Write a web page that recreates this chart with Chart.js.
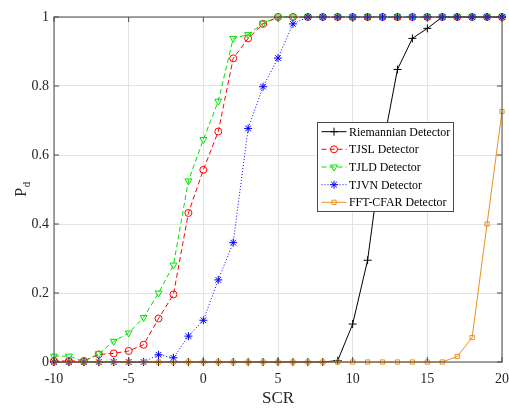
<!DOCTYPE html>
<html>
<head>
<meta charset="utf-8">
<script src="https://cdn.jsdelivr.net/npm/chart.js@4.4.1/dist/chart.umd.min.js"></script>
<style>
  html, body { margin: 0; padding: 0; background: #ffffff; }
  #wrap { width: 509px; height: 409px; position: relative; }
</style>
</head>
<body>
<div id="wrap"><canvas id="c" width="509" height="409"></canvas></div>
<script>
// SCR values (dB) on the horizontal axis
const scr = [-10, -9, -8, -7, -6, -5, -4, -3, -2, -1, 0, 1, 2, 3, 4, 5, 6, 7, 8, 9, 10,
             11, 12, 13, 14, 15, 16, 17, 18, 19, 20];

// Probability of detection for each detector
const riemannian = [0, 0, 0, 0, 0, 0, 0, 0, 0, 0, 0, 0, 0, 0, 0, 0, 0, 0, 0, 0.004, 0.11,
                    0.295, 0.62, 0.848, 0.938, 0.967, 1, 1, 1, 1, 1];
const tjsl = [0.003, 0.003, 0.003, 0.022, 0.025, 0.032, 0.05, 0.126, 0.196, 0.432, 0.557,
              0.668, 0.88, 0.938, 0.98, 1, 1, 1, 1, 1, 1, 1, 1, 1, 1, 1, 1, 1, 1, 1, 1];
const tjld = [0.017, 0.017, 0.002, 0.024, 0.06, 0.084, 0.129, 0.2, 0.281, 0.525, 0.645,
              0.756, 0.938, 0.949, 0.982, 1, 1, 1, 1, 1, 1, 1, 1, 1, 1, 1, 1, 1, 1, 1, 1];
const tjvn = [0, 0, 0, 0, 0, 0, 0, 0.021, 0.012, 0.075, 0.121, 0.238, 0.346, 0.677, 0.798,
              0.881, 0.98, 1, 1, 1, 1, 1, 1, 1, 1, 1, 1, 1, 1, 1, 1];
const fftCfar = [0, 0, 0, 0, 0, 0, 0, 0, 0, 0, 0, 0, 0, 0, 0, 0, 0, 0, 0, 0, 0,
                 0, 0, 0, 0, 0, 0, 0.016, 0.071, 0.4, 0.726];

const seriesNames = ['Riemannian Detector', 'TJSL Detector', 'TJLD Detector', 'TJVN Detector', 'FFT-CFAR Detector'];
const xTicks = [-10, -5, 0, 5, 10, 15, 20];
const yTicks = [0, 0.2, 0.4, 0.6, 0.8, 1];

const SERIF = '"Liberation Serif", "DejaVu Serif", serif';
const ORANGE = '#e8901e';

function pts(vals) { return vals.map((v, i) => ({ x: scr[i], y: v })); }

const styles = [
  { color: '#000000', dash: [], point: 'cross', r: 4, rot: 0 },
  { color: '#ff0000', dash: [5, 3], point: 'circle', r: 3.5, rot: 0 },
  { color: '#00e000', dash: [5, 3], point: 'triangle', r: 4, rot: 180 },
  { color: '#0000ff', dash: [1, 2], point: 'star', r: 4, rot: 0 },
  { color: ORANGE, dash: [], point: 'rect', r: 3, rot: 0 }
];
const allSeries = [riemannian, tjsl, tjld, tjvn, fftCfar];

const datasets = allSeries.map((vals, i) => ({
  label: seriesNames[i],
  data: pts(vals),
  borderColor: styles[i].color,
  backgroundColor: 'rgba(0,0,0,0)',
  borderWidth: 1,
  borderDash: styles[i].dash,
  pointStyle: styles[i].point,
  pointRadius: styles[i].r,
  pointRotation: styles[i].rot,
  pointBorderColor: styles[i].color,
  pointBackgroundColor: 'rgba(0,0,0,0)',
  pointBorderWidth: 1,
  tension: 0,
  clip: false,
  order: 5 - i
}));

// Box frame, inward tick marks, y title with subscript and an in-plot legend
const framePlugin = {
  id: 'frame',
  afterDatasetsDraw(chart) {
    const { ctx, chartArea: a, scales } = chart;
    const xs = scales.x, ys = scales.y;
    ctx.save();
    ctx.strokeStyle = '#4a4a4a';
    ctx.lineWidth = 1;
    ctx.setLineDash([]);
    ctx.strokeRect(a.left, a.top, a.right - a.left, a.bottom - a.top);
    const tl = 5;
    ctx.beginPath();
    xTicks.forEach(v => {
      const px = xs.getPixelForValue(v);
      ctx.moveTo(px, a.bottom); ctx.lineTo(px, a.bottom - tl);
      ctx.moveTo(px, a.top); ctx.lineTo(px, a.top + tl);
    });
    yTicks.forEach(v => {
      const py = ys.getPixelForValue(v);
      ctx.moveTo(a.left, py); ctx.lineTo(a.left + tl, py);
      ctx.moveTo(a.right, py); ctx.lineTo(a.right - tl, py);
    });
    ctx.stroke();
    ctx.restore();
  },
  afterDraw(chart) {
    const { ctx, chartArea: a } = chart;
    ctx.save();
    // y-axis title: P with subscript d
    ctx.translate(22, (a.top + a.bottom) / 2);
    ctx.rotate(-Math.PI / 2);
    ctx.fillStyle = '#262626';
    ctx.textBaseline = 'alphabetic';
    ctx.font = '16px ' + SERIF;
    const pw = ctx.measureText('P').width;
    ctx.font = '11px ' + SERIF;
    const dw = ctx.measureText('d').width;
    const x0 = -(pw + dw) / 2;
    ctx.font = '16px ' + SERIF;
    ctx.fillText('P', x0, 4);
    ctx.font = '11px ' + SERIF;
    ctx.fillText('d', x0 + pw + 0.5, 8);
    ctx.restore();

    // legend box
    const L = 317, T = 122, R = 454, B = 212;
    ctx.save();
    ctx.fillStyle = '#ffffff';
    ctx.fillRect(L, T, R - L, B - T);
    ctx.strokeStyle = '#4a4a4a';
    ctx.lineWidth = 1;
    ctx.strokeRect(L + 0.5, T + 0.5, R - L - 1, B - T - 1);
    const rows = [131.7, 149.3, 167, 184.7, 202.3];
    chart.data.datasets.forEach((ds, i) => {
      const y = rows[i];
      const st = styles[i];
      ctx.strokeStyle = st.color;
      ctx.lineWidth = 1;
      ctx.setLineDash(st.dash);
      ctx.beginPath();
      ctx.moveTo(321.5, y); ctx.lineTo(346.5, y);
      ctx.stroke();
      ctx.setLineDash([]);
      ctx.fillStyle = 'rgba(0,0,0,0)';
      ctx.strokeStyle = st.color;
      Chart.helpers.drawPoint(ctx, {
        pointStyle: st.point, radius: st.r, rotation: st.rot, borderWidth: 1
      }, 334, y);
      ctx.fillStyle = '#000000';
      ctx.font = '13.5px ' + SERIF;
      ctx.textBaseline = 'middle';
      ctx.textAlign = 'left';
      const w = ctx.measureText(ds.label).width;
      ctx.fillText(ds.label, 349, y + 0.5, w * 0.88);
    });
    ctx.restore();
  }
};

new Chart(document.getElementById('c'), {
  type: 'line',
  data: { datasets },
  options: {
    responsive: false,
    animation: false,
    devicePixelRatio: 1,
    layout: { padding: { left: 0, right: 7, top: 17, bottom: 0 } },
    plugins: { legend: { display: false }, tooltip: { enabled: false } },
    scales: {
      x: {
        type: 'linear',
        min: -10, max: 20,
        afterBuildTicks(scale) { scale.ticks = xTicks.map(v => ({ value: v })); },
        afterFit(scale) {
          scale.height = 47;
          scale.paddingLeft = 0;
          scale.paddingRight = 0;
        },
        grid: { color: '#e3e3e3', lineWidth: 1, drawTicks: false },
        border: { display: false },
        ticks: {
          padding: 9,
          color: '#262626',
          font: { family: SERIF, size: 14 },
          maxRotation: 0,
          callback: v => String(v)
        },
        title: {
          display: true, text: 'SCR', color: '#262626',
          font: { family: SERIF, size: 17 },
          padding: { top: 6, bottom: 0 }
        }
      },
      y: {
        min: 0, max: 1,
        afterBuildTicks(scale) { scale.ticks = yTicks.map(v => ({ value: v })); },
        afterFit(scale) {
          scale.width = 54;
          scale.paddingTop = 0;
          scale.paddingBottom = 0;
        },
        grid: { color: '#e3e3e3', lineWidth: 1, drawTicks: false },
        border: { display: false },
        ticks: {
          padding: 5,
          color: '#262626',
          font: { family: SERIF, size: 14 },
          callback: v => String(Number(v.toFixed(1)))
        }
      }
    }
  },
  plugins: [framePlugin]
});
</script>
</body>
</html>
